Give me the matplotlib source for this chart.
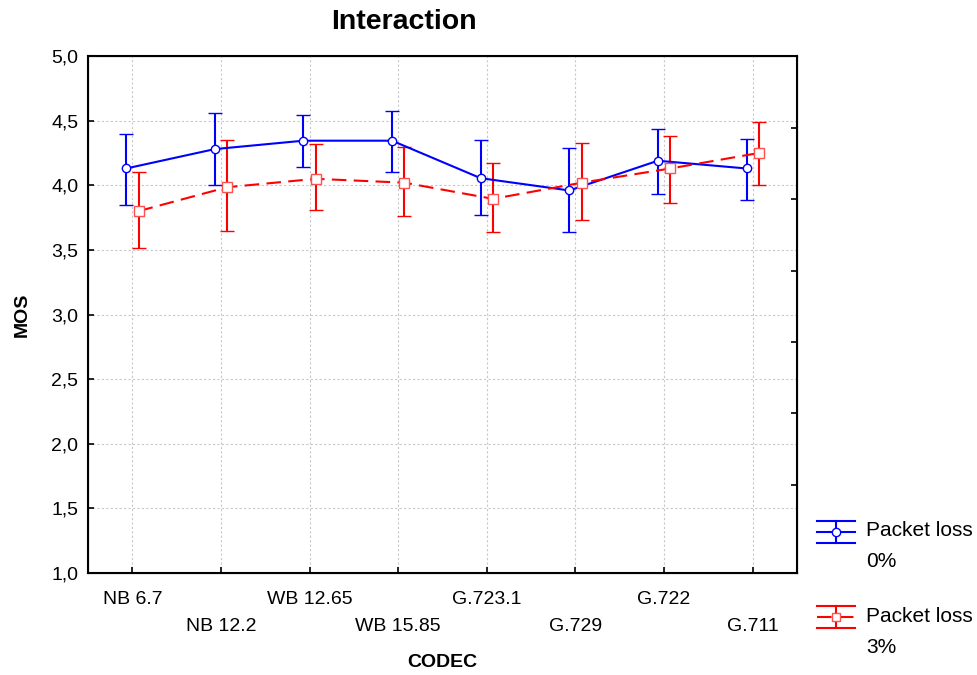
import numpy as np
import matplotlib.pyplot as plt
from matplotlib.ticker import FuncFormatter
from matplotlib.legend_handler import HandlerBase
from matplotlib.lines import Line2D

plt.rcParams['font.family'] = ['Liberation Sans', 'DejaVu Sans']

# data
codecs = ['NB 6.7', 'NB 12.2', 'WB 12.65', 'WB 15.85', 'G.723.1', 'G.729', 'G.722', 'G.711']

loss0_mean = [4.13, 4.28, 4.345, 4.345, 4.055, 3.96, 4.19, 4.13]
loss0_low = [3.85, 4.00, 4.145, 4.105, 3.77, 3.64, 3.935, 3.885]
loss0_high = [4.395, 4.56, 4.54, 4.575, 4.35, 4.29, 4.435, 4.36]

loss3_mean = [3.80, 3.985, 4.05, 4.02, 3.895, 4.02, 4.13, 4.25]
loss3_low = [3.515, 3.645, 3.805, 3.76, 3.64, 3.735, 3.865, 4.005]
loss3_high = [4.105, 4.35, 4.32, 4.30, 4.17, 4.325, 4.38, 4.49]

BLUE = '#0000ff'
RED = '#ff0000'
DASH = (0, (7, 3.5))


class HandlerCapBar(HandlerBase):
    # legend key: full-width caps, vertical bar and line with marker,
    # pushed up to sit next to the first line of the label
    def __init__(self, color, ls, marker, mec, shift=0.72):
        super().__init__()
        self.color, self.ls, self.marker, self.mec, self.shift = color, ls, marker, mec, shift

    def create_artists(self, legend, orig_handle, xdescent, ydescent, width, height, fontsize, trans):
        yc = height / 2 - ydescent + self.shift * fontsize
        h = 0.52 * fontsize
        x0, x1 = -xdescent, width - xdescent
        xm = (x0 + x1) / 2
        arts = [
            Line2D([x0, x1], [yc + h, yc + h], color=self.color, lw=1.5),
            Line2D([x0, x1], [yc - h, yc - h], color=self.color, lw=1.5),
            Line2D([xm, xm], [yc - h, yc + h], color=self.color, lw=1.5),
            Line2D([x0, x1], [yc, yc], color=self.color, lw=1.5, linestyle=self.ls),
            Line2D([xm], [yc], marker=self.marker, markersize=6, markerfacecolor='white',
                   markeredgecolor=self.mec, markeredgewidth=1.0, linestyle='none'),
        ]
        for a in arts:
            a.set_transform(trans)
        return arts


fig = plt.figure(figsize=(9.78, 6.75), dpi=100)
ax = fig.add_axes([0.090, 0.151, 0.725, 0.766])

x = np.arange(len(codecs))
off = 0.07

m0 = np.array(loss0_mean)
m3 = np.array(loss3_mean)
err0 = [m0 - np.array(loss0_low), np.array(loss0_high) - m0]
err3 = [m3 - np.array(loss3_low), np.array(loss3_high) - m3]

eb0 = ax.errorbar(x - off, m0, yerr=err0, color=BLUE, linestyle='-', linewidth=1.5,
                  marker='o', markersize=6, markerfacecolor='white', markeredgecolor=BLUE,
                  markeredgewidth=1.0, capsize=5, capthick=2, elinewidth=1.5,
                  label='Packet loss\n0%', zorder=3)
eb3 = ax.errorbar(x + off, m3, yerr=err3, color=RED, linestyle=DASH, linewidth=1.5,
                  marker='s', markersize=6.5, markerfacecolor='white', markeredgecolor='#ff5050',
                  markeredgewidth=1.0, capsize=5, capthick=2, elinewidth=1.5,
                  label='Packet loss\n3%', zorder=3)

ax.set_xlim(-0.5, len(codecs) - 0.5)
ax.set_ylim(1.0, 5.0)
ax.set_yticks(np.arange(1.0, 5.01, 0.5))
ax.yaxis.set_major_formatter(FuncFormatter(lambda v, p: f'{v:.1f}'.replace('.', ',')))

# staggered category labels: even on the first row, odd on the second
ax.set_xticks(x[::2])
ax.set_xticklabels(codecs[::2])
ax.set_xticks(x[1::2], minor=True)
ax.set_xticklabels(codecs[1::2], minor=True)
ax.tick_params(axis='x', which='major', direction='in', length=4, width=1.2, pad=13, labelsize=14)
ax.tick_params(axis='x', which='minor', direction='in', length=4, width=1.2, pad=32, labelsize=14)
ax.tick_params(axis='y', direction='in', length=4, width=1.2, pad=7, labelsize=14)

ax.grid(True, which='both', color='#c8c8c8', linestyle=(0, (2, 2)), linewidth=0.8)
ax.set_axisbelow(True)
for s in ax.spines.values():
    s.set_linewidth(1.5)

# unlabeled ticks on the right frame
ax2 = ax.twinx()
ax2.set_ylim(0, 1)
ax2.set_yticks([0.171, 0.309, 0.447, 0.585, 0.723, 0.861])
ax2.set_yticklabels([])
ax2.tick_params(axis='y', direction='in', length=4, width=1.2)

fig.text(0.413, 0.968, 'Interaction', fontsize=20.5, fontweight='bold', ha='center', va='center')
ax.set_xlabel('CODEC', fontsize=14, fontweight='bold', labelpad=14)
ax.set_ylabel('MOS', fontsize=14, fontweight='bold', labelpad=15)

leg = ax.legend(handles=[eb0, eb3], labels=['Packet loss\n0%', 'Packet loss\n3%'],
                handler_map={eb0: HandlerCapBar(BLUE, '-', 'o', BLUE),
                             eb3: HandlerCapBar(RED, DASH, 's', '#ff5050')},
                loc='lower left', bbox_to_anchor=(0.835, 0.027), bbox_transform=fig.transFigure,
                frameon=False, fontsize=15, handlelength=1.83, handleheight=1.0,
                labelspacing=1.7, handletextpad=0.53, borderpad=0, borderaxespad=0)
for t in leg.get_texts():
    t.set_linespacing(1.8)

fig.savefig('out.png', dpi=100)
